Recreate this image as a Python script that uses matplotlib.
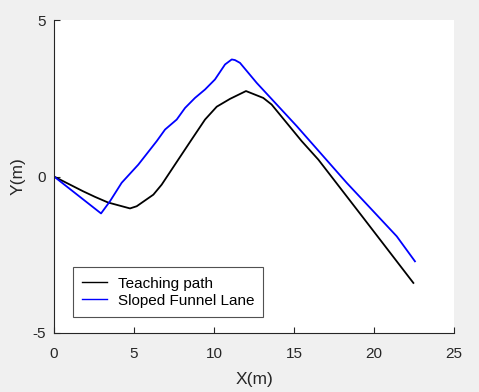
import matplotlib
matplotlib.use("Agg")
import matplotlib.pyplot as plt

plt.rcParams['font.family'] = ['Liberation Sans', 'DejaVu Sans']
plt.rcParams['axes.unicode_minus'] = False

teach_x = [0.0, 1.81, 2.56, 3.375, 4.75, 5.17, 6.21, 6.73, 7.56, 8.6, 9.44, 10.17,
           11.0, 12.0, 13.08, 13.6, 15.48, 16.52, 19.33, 22.46]
teach_y = [0.0, -0.47, -0.65, -0.83, -1.02, -0.95, -0.58, -0.26, 0.38, 1.18, 1.82, 2.23,
           2.48, 2.73, 2.51, 2.30, 1.13, 0.54, -1.32, -3.40]

lane_x = [0.0, 2.94, 3.5, 4.23, 5.27, 6.42, 6.94, 7.67, 8.19, 8.81, 9.44, 10.06,
          10.69, 11.11, 11.31, 11.625, 12.67, 15.17, 18.29, 21.42, 22.56]
lane_y = [0.0, -1.18, -0.79, -0.20, 0.38, 1.13, 1.50, 1.82, 2.19, 2.51, 2.78, 3.10,
          3.58, 3.74, 3.72, 3.63, 2.99, 1.61, -0.20, -1.91, -2.71]

labels = ['Teaching path', 'Sloped Funnel Lane']
xticks = [0, 5, 10, 15, 20, 25]
yticks = [-5, 0, 5]

fig = plt.figure(figsize=(4.79, 3.92), dpi=100, facecolor='#F0F0F0')
ax = fig.add_axes([54/479, 1 - 333/392, 400/479, 313/392])
ax.set_facecolor('white')

ax.plot(teach_x, teach_y, color='black', lw=1.3, label=labels[0])
ax.plot(lane_x, lane_y, color='#0000FF', lw=1.3, label=labels[1])

ax.set_xlim(0, 25)
ax.set_ylim(-5, 5)
ax.set_xticks(xticks)
ax.set_yticks(yticks)
ax.spines['top'].set_visible(False)
ax.spines['right'].set_visible(False)
for s in ['left', 'bottom']:
    ax.spines[s].set_color('#262626')
    ax.spines[s].set_linewidth(0.8)
ax.tick_params(direction='in', length=4, width=0.8, colors='#262626',
               labelsize=11, labelcolor='#262626')
ax.tick_params(axis='x', pad=10)
ax.tick_params(axis='y', pad=6)
ax.set_xlabel('X(m)', fontsize=12.5, color='#262626', labelpad=8)
ax.set_ylabel('Y(m)', fontsize=12.5, color='#262626', labelpad=5)

leg = ax.legend(loc='lower left', bbox_to_anchor=(0.048, 0.052), borderaxespad=0,
                fontsize=11, frameon=True, fancybox=False, edgecolor='#262626',
                handlelength=1.6, handletextpad=0.7, borderpad=0.6, labelspacing=0.2,
                handleheight=0.7)
leg.get_frame().set_linewidth(0.8)
for l in leg.get_lines():
    l.set_linewidth(1.0)

fig.savefig('out.png', dpi=100, facecolor=fig.get_facecolor())
